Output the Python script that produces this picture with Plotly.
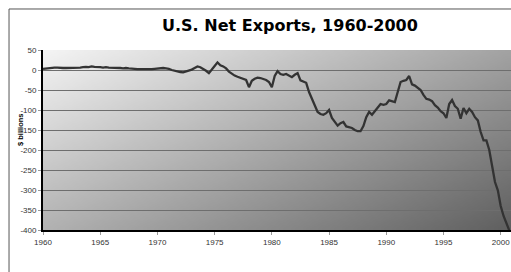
import base64, struct, zlib
import plotly.graph_objects as go

# ---- data (quarterly, $ billions) ----
start_year = 1960
net_exports = [
    3, 4, 5, 5,          # 1960
    6, 6, 5, 5,          # 1961
    5, 5, 6, 5,          # 1962
    5, 6, 7, 8,          # 1963
    7, 9, 8, 8,          # 1964
    7, 6, 7, 6,          # 1965
    6, 5, 5, 5,          # 1966
    4, 5, 4, 4,          # 1967
    3, 2, 2, 1,          # 1968
    1, 1, 2, 3,          # 1969
    4, 5, 5, 4,          # 1970
    3, 0, -2, -4,        # 1971
    -5, -6, -4, -1,      # 1972
    1, 5, 9, 7,          # 1973
    3, -2, -8, 0,        # 1974
    10, 19, 12, 9,       # 1975
    4, -4, -10, -14,     # 1976
    -17, -20, -23, -25,  # 1977
    -43, -27, -22, -19,  # 1978
    -20, -22, -25, -30,  # 1979
    -43, -15, -3, -10,   # 1980
    -12, -10, -14, -18,  # 1981
    -12, -8, -26, -30,   # 1982
    -32, -55, -72, -90,  # 1983
    -105, -110, -112, -108,  # 1984
    -100, -120, -130, -139,  # 1985
    -133, -130, -141, -143,  # 1986
    -145, -150, -153, -153,  # 1987
    -140, -118, -105, -112,  # 1988
    -103, -95, -85, -87,     # 1989
    -85, -76, -78, -80,      # 1990
    -55, -30, -27, -25,      # 1991
    -15, -36, -39, -45,      # 1992
    -50, -62, -72, -74,      # 1993
    -78, -88, -94, -103,     # 1994
    -108, -120, -85, -75,    # 1995
    -90, -97, -122, -95,     # 1996
    -108, -97, -105, -118,   # 1997
    -126, -155, -176, -176,  # 1998
    -200, -240, -280, -301,  # 1999
    -340, -365, -385, -401,  # 2000
]
x_ticks = [1960, 1965, 1970, 1975, 1980, 1985, 1990, 1995, 2000]
y_ticks = [50, 0, -50, -100, -150, -200, -250, -300, -350, -400]

quarters = [start_year + i / 4 for i in range(len(net_exports))]

# ---- diagonal gray gradient background as a tiny PNG ----
def gradient_png(w, h):
    rows = b""
    for j in range(h):
        yf = j / (h - 1)
        row = bytearray([0])
        for i in range(w):
            xf = i / (w - 1)
            v = 244 - 82 * xf - 66 * yf
            row.append(max(0, min(255, int(round(v)))))
        rows += bytes(row)

    def chunk(tag, data):
        c = struct.pack(">I", len(data)) + tag + data
        return c + struct.pack(">I", zlib.crc32(tag + data) & 0xffffffff)

    png = b"\x89PNG\r\n\x1a\n"
    png += chunk(b"IHDR", struct.pack(">IIBBBBB", w, h, 8, 0, 0, 0, 0))
    png += chunk(b"IDAT", zlib.compress(rows, 9))
    png += chunk(b"IEND", b"")
    return "data:image/png;base64," + base64.b64encode(png).decode()

fig = go.Figure()
fig.add_trace(go.Scatter(
    x=quarters, y=net_exports, mode="lines",
    line=dict(color="#333333", width=2.3),
    showlegend=False, hoverinfo="skip",
))

tick_font = dict(family="Liberation Sans, Arial, sans-serif", size=8, color="#333333")

fig.update_layout(
    width=511, height=272,
    margin=dict(l=43, r=0, t=50, b=42, pad=0),
    paper_bgcolor="white",
    plot_bgcolor="rgba(0,0,0,0)",
    images=[dict(
        source=gradient_png(120, 48),
        xref="x domain", yref="y domain", x=0, y=1, sizex=1, sizey=1,
        xanchor="left", yanchor="top", sizing="stretch", layer="below",
    )],
    xaxis=dict(
        range=[1960, 2000.9], tickvals=x_ticks, ticktext=[str(t) for t in x_ticks],
        showgrid=False, zeroline=False, showline=True, linecolor="black", linewidth=2,
        ticks="outside", ticklen=3, tickcolor="#999999", tickfont=tick_font,
    ),
    yaxis=dict(
        range=[-400, 50], tickvals=y_ticks, ticktext=[str(t) for t in y_ticks],
        showgrid=True, gridcolor="#6e6e6e", gridwidth=1, zeroline=False,
        showline=True, linecolor="black", linewidth=2,
        ticks="outside", ticklen=3, tickcolor="#999999", tickfont=tick_font,
    ),
    shapes=[
        dict(type="line", xref="paper", yref="paper", x0=-0.0726, x1=-0.0726,
             y0=1.2278, y1=-0.4, line=dict(color="#555555", width=1)),
        dict(type="line", xref="paper", yref="paper", x0=-0.0726, x1=1.2,
             y0=1.2278, y1=1.2278, line=dict(color="#555555", width=1)),
    ],
    annotations=[
        dict(text="U.S. Net Exports, 1960-2000", xref="paper", yref="paper",
             x=(290 - 43) / 468, y=1 + (50 - 25) / 180, xanchor="center", yanchor="middle",
             showarrow=False,
             font=dict(family="DejaVu Sans, sans-serif", size=16, color="black", weight="bold")),
        dict(text="$ billions", xref="paper", yref="paper",
             x=(20 - 43) / 468, y=(230 - 130) / 180, xanchor="center", yanchor="middle",
             textangle=-90, showarrow=False,
             font=dict(family="Liberation Sans, Arial, sans-serif", size=7.5, color="black", weight="bold")),
    ],
)

fig.write_html(
    "out.html",
    config={"displayModeBar": False, "staticPlot": True},
    post_script="document.body.style.margin='0';document.body.style.overflow='hidden';",
)
